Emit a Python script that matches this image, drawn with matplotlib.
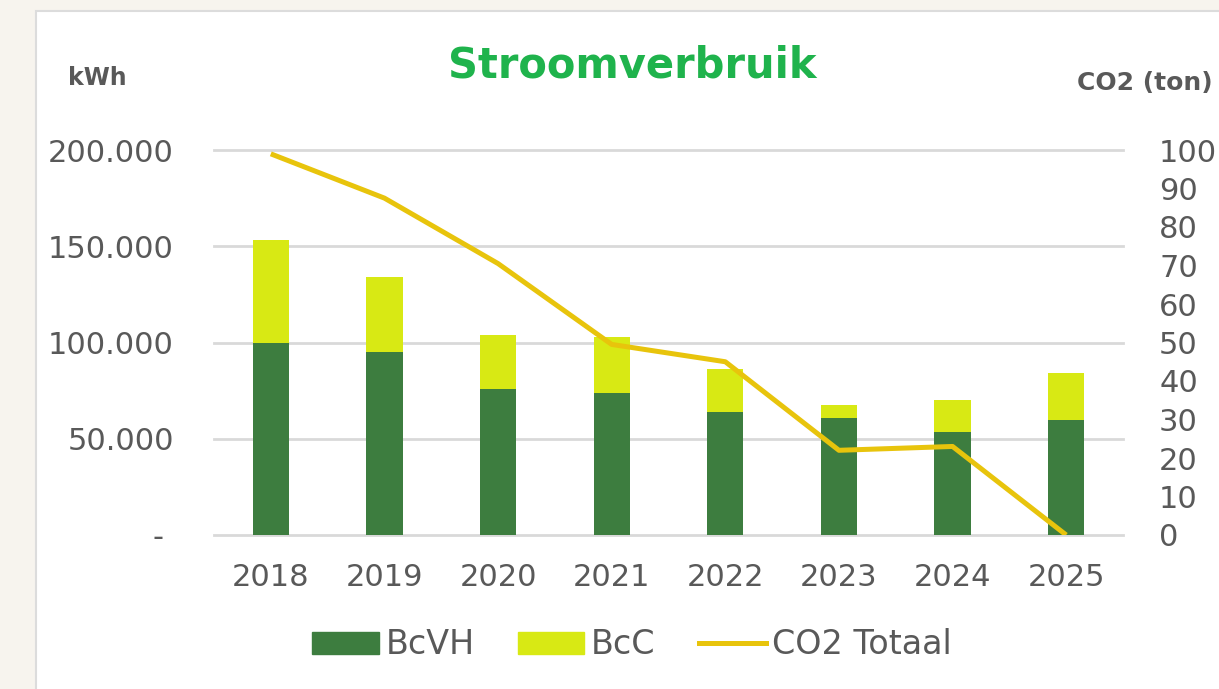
import matplotlib.pyplot as plt
from matplotlib.patches import Rectangle, Patch
from matplotlib.lines import Line2D
from matplotlib.ticker import FuncFormatter

years = ["2018", "2019", "2020", "2021", "2022", "2023", "2024", "2025"]
bcvh = [100000, 95000, 76000, 74000, 64000, 61000, 53500, 60000]
bcc = [53000, 39000, 28000, 29000, 22000, 6500, 16500, 24000]
co2 = [99, 87.5, 70.5, 49.5, 45, 22, 23, 0]

dark_green = "#3d7d3f"
lime = "#d8e914"
gold = "#e8c40c"
grey_txt = "#595959"

fig = plt.figure(figsize=(12.19, 6.89), dpi=100)
fig.patch.set_facecolor("#f7f4ee")
# witte kaart achter de grafiek
fig.patches.append(Rectangle((36 / 1219, -0.05), 1.2, 1 - 11 / 689 + 0.05,
                             transform=fig.transFigure, facecolor="white",
                             edgecolor="#dcdcdc", linewidth=1.5, zorder=-10))

ax = fig.add_axes([214 / 1219, 1 - 535 / 689, (1123 - 214) / 1219, (535 - 150) / 689])
ax.set_facecolor("none")
x = list(range(len(years)))
ax.bar(x, bcvh, width=0.32, color=dark_green, zorder=2)
ax.bar(x, bcc, width=0.32, bottom=bcvh, color=lime, zorder=2)

ax.set_xlim(-0.5, len(years) - 0.5)
ax.set_ylim(0, 200000)
ax.set_yticks([0, 50000, 100000, 150000, 200000])
ax.yaxis.set_major_formatter(FuncFormatter(
    lambda v, p: "- " if v == 0 else f"{int(v):,}".replace(",", ".")))
ax.set_xticks(x)
ax.set_xticklabels(years)
ax.grid(axis="y", color="#d9d9d9", linewidth=2, zorder=0)
for gl in ax.get_ygridlines():
    gl.set_clip_on(False)
ax.set_axisbelow(True)
for s in ax.spines.values():
    s.set_visible(False)
ax.tick_params(axis="y", length=0, pad=29, labelsize=22, labelcolor=grey_txt)
ax.tick_params(axis="x", length=0, pad=20, labelsize=22, labelcolor=grey_txt)

ax2 = ax.twinx()
ax2.plot(x, co2, color=gold, linewidth=3.6, solid_capstyle="butt")
ax2.set_ylim(0, 100)
ax2.set_yticks(range(0, 101, 10))
for s in ax2.spines.values():
    s.set_visible(False)
ax2.tick_params(axis="y", length=0, pad=26, labelsize=22, labelcolor=grey_txt)

fig.text(632 / 1219, 1 - 66 / 689, "Stroomverbruik", ha="center", va="center",
         fontsize=30, fontweight="bold", color="#1fb34c")
fig.text(68 / 1219, 1 - 78 / 689, "kWh", ha="left", va="center",
         fontsize=17, fontweight="bold", color=grey_txt)
fig.text(1213 / 1219, 1 - 83 / 689, "CO2 (ton)", ha="right", va="center",
         fontsize=18, fontweight="bold", color=grey_txt)

handles = [Patch(color=dark_green, label="BcVH"),
           Patch(color=lime, label="BcC"),
           Line2D([0], [0], color=gold, linewidth=3.6, label="CO2 Totaal")]
fig.legend(handles=handles, loc="center", bbox_to_anchor=(632 / 1219, 1 - 645 / 689),
           ncol=3, frameon=False, fontsize=24, labelcolor=grey_txt,
           handlelength=2.0, handleheight=0.65, handletextpad=0.2, columnspacing=1.3)

fig.savefig("out.png", dpi=100, facecolor=fig.get_facecolor())
